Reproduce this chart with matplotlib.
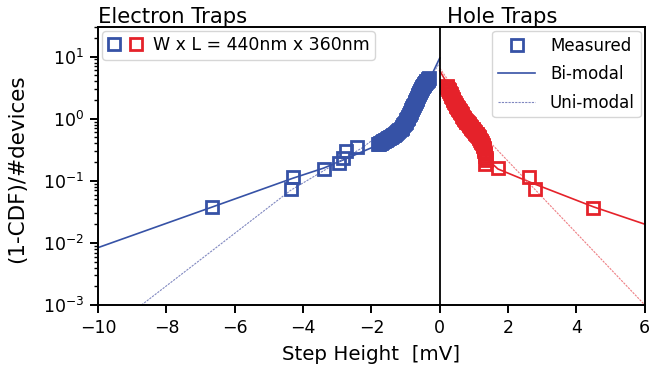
import numpy as np
import matplotlib
matplotlib.use("Agg")
import matplotlib.pyplot as plt
from matplotlib.legend_handler import HandlerTuple
from matplotlib.lines import Line2D

# measured steps, electron traps (negative side)
e_x = [-6.67, -4.37, -4.31, -3.38, -2.96, -2.83, -2.75, -2.41, -1.80,
       -1.78, -1.75, -1.72, -1.69, -1.66, -1.63, -1.60, -1.57, -1.54, -1.51,
       -1.48, -1.45, -1.42, -1.39, -1.36, -1.33, -1.30, -1.27, -1.24, -1.21,
       -1.18, -1.15, -1.12, -1.10, -1.07, -1.05, -1.02, -1.00, -0.98, -0.96,
       -0.94, -0.92, -0.90, -0.88, -0.86, -0.84, -0.83, -0.81, -0.80, -0.78,
       -0.77, -0.75, -0.74, -0.72, -0.71, -0.69, -0.68, -0.66, -0.65, -0.63,
       -0.62, -0.60, -0.59, -0.57, -0.56, -0.54, -0.53, -0.51, -0.50, -0.48,
       -0.47, -0.45, -0.44, -0.42, -0.41, -0.39, -0.38, -0.36, -0.35, -0.33]
e_y = [0.038, 0.075, 0.116, 0.154, 0.19, 0.237, 0.297, 0.345, 0.39,
       0.39, 0.40, 0.41, 0.42, 0.43, 0.44, 0.45, 0.46, 0.47, 0.48,
       0.49, 0.50, 0.51, 0.52, 0.54, 0.55, 0.57, 0.59, 0.61, 0.63,
       0.65, 0.68, 0.71, 0.74, 0.78, 0.82, 0.86, 0.90, 0.94, 0.98,
       1.03, 1.08, 1.13, 1.19, 1.25, 1.30, 1.36, 1.42, 1.48, 1.55,
       1.62, 1.69, 1.77, 1.85, 1.93, 2.01, 2.10, 2.19, 2.28, 2.37,
       2.47, 2.57, 2.67, 2.77, 2.88, 2.98, 3.08, 3.19, 3.30, 3.40,
       3.50, 3.61, 3.72, 3.82, 3.92, 4.01, 4.10, 4.20, 4.30, 4.45]

# measured steps, hole traps (positive side)
h_x = [0.20, 0.22, 0.24, 0.26, 0.28, 0.30, 0.32, 0.34, 0.36, 0.38, 0.40,
       0.42, 0.44, 0.46, 0.48, 0.50, 0.52, 0.54, 0.56, 0.58, 0.60, 0.62,
       0.64, 0.66, 0.68, 0.70, 0.72, 0.74, 0.76, 0.78, 0.80, 0.82, 0.84,
       0.86, 0.88, 0.90, 0.92, 0.94, 0.96, 0.98, 1.00, 1.02, 1.04, 1.06,
       1.08, 1.10, 1.12, 1.14, 1.16, 1.18, 1.20, 1.22, 1.23, 1.25, 1.26,
       1.28, 1.29, 1.30, 1.31, 1.32, 1.33, 1.34, 1.35,
       1.33, 1.69, 2.61, 2.79, 4.49]
h_y = [3.40, 3.22, 3.05, 2.90, 2.75, 2.60, 2.45, 2.32, 2.20, 2.09, 1.98,
       1.88, 1.78, 1.69, 1.60, 1.54, 1.48, 1.43, 1.38, 1.32, 1.27, 1.22,
       1.17, 1.12, 1.08, 1.04, 1.00, 0.96, 0.93, 0.90, 0.87, 0.84, 0.82,
       0.79, 0.77, 0.74, 0.72, 0.69, 0.67, 0.65, 0.63, 0.61, 0.59, 0.57,
       0.56, 0.54, 0.52, 0.50, 0.48, 0.46, 0.44, 0.42, 0.40, 0.38, 0.36,
       0.34, 0.32, 0.30, 0.28, 0.265, 0.25, 0.235, 0.22,
       0.186, 0.158, 0.113, 0.073, 0.037]

# fitted curves
e_bi_x = [-10, -6.65, -4.3, -3.4, -2.8, -2.0, -1.5, -1.2, -1.0, -0.8, -0.6, -0.4, -0.2, 0]
e_bi_y = [0.0084, 0.038, 0.11, 0.16, 0.22, 0.34, 0.50, 0.72, 1.0, 1.45, 2.15, 3.4, 5.6, 9.5]
e_uni_x = [-8.73, -4.37, -2.27, -1.2, -0.6, 0]
e_uni_y = [0.001, 0.07, 0.34, 0.95, 2.4, 8.0]

h_bi_x = [0, 0.2, 0.4, 0.6, 0.8, 1.0, 1.2, 1.4, 1.7, 2.7, 4.5, 6.0]
h_bi_y = [5.9, 3.8, 2.4, 1.5, 0.92, 0.56, 0.34, 0.22, 0.155, 0.092, 0.038, 0.02]
h_uni_x = [0, 0.5, 1.0, 1.43, 2.79, 6.0]
h_uni_y = [6.5, 2.6, 0.9, 0.44, 0.072, 0.001]

blue = "#3652a6"
red = "#e5222a"
blue_l = "#8088c0"
red_l = "#ee7f84"

fig = plt.figure(figsize=(6.5, 3.74), dpi=100)
ax = fig.add_axes([0.151, 0.1845, 0.841, 0.7435])

ax.plot(e_bi_x, e_bi_y, color=blue, lw=1.2)
ax.plot(e_uni_x, e_uni_y, color=blue_l, lw=0.8, ls=(0, (2, 1)))
ax.plot(h_bi_x, h_bi_y, color=red, lw=1.2)
ax.plot(h_uni_x, h_uni_y, color=red_l, lw=0.8, ls=(0, (2, 1)))

mk = dict(marker="s", ls="none", ms=8, mew=2.0, mfc="none")
ax.plot(e_x, e_y, mec=blue, **mk)
ax.plot(h_x, h_y, mec=red, **mk)

ax.axvline(0, color="black", lw=1.3)

ax.set_yscale("log")
ax.set_xlim(-10, 6)
ax.set_ylim(1e-3, 30)
ax.set_xticks(np.arange(-10, 7, 2))
ax.tick_params(which="major", direction="out", length=6, width=1.4, labelsize=12.5, pad=4)
ax.tick_params(which="minor", direction="out", length=3, width=1.0)
ax.xaxis.set_minor_locator(matplotlib.ticker.NullLocator())
for s in ax.spines.values():
    s.set_linewidth(1.4)

ax.set_xlabel("Step Height  [mV]", fontsize=14.3, labelpad=6)
ax.set_ylabel("(1-CDF)/#devices", fontsize=15.5)
ax.yaxis.set_label_coords(-0.13, 0.49)

trans = matplotlib.transforms.blended_transform_factory(ax.transData, ax.transAxes)
ax.text(-10, 1.0, "Electron Traps", transform=trans, fontsize=15.2, va="bottom", ha="left")
ax.text(0.2, 1.0, "Hole Traps", transform=trans, fontsize=15.2, va="bottom", ha="left")

# legend with device size
sq_b = Line2D([], [], marker="s", ls="none", ms=8, mew=2.0, mfc="none", mec=blue)
sq_r = Line2D([], [], marker="s", ls="none", ms=8, mew=2.0, mfc="none", mec=red)
leg1 = ax.legend([(sq_b, sq_r)], ["W x L = 440nm x 360nm"], loc="upper left",
                 handler_map={tuple: HandlerTuple(ndivide=None, pad=0.5)},
                 fontsize=12.5, handlelength=2.0, borderaxespad=0.25,
                 handletextpad=0.6, borderpad=0.3)
ax.add_artist(leg1)

h_meas = Line2D([], [], marker="s", ls="none", ms=8, mew=2.0, mfc="none", mec=blue)
h_bi = Line2D([], [], color=blue, lw=1.2)
h_uni = Line2D([], [], color=blue_l, lw=0.8, ls=(0, (2, 1)))
ax.legend([h_meas, h_bi, h_uni], ["Measured", "Bi-modal", "Uni-modal"],
          loc="upper right", fontsize=12, handlelength=2.2, borderaxespad=0.25,
          handletextpad=0.9, borderpad=0.35, labelspacing=0.62)

fig.savefig("out.png", dpi=100)
